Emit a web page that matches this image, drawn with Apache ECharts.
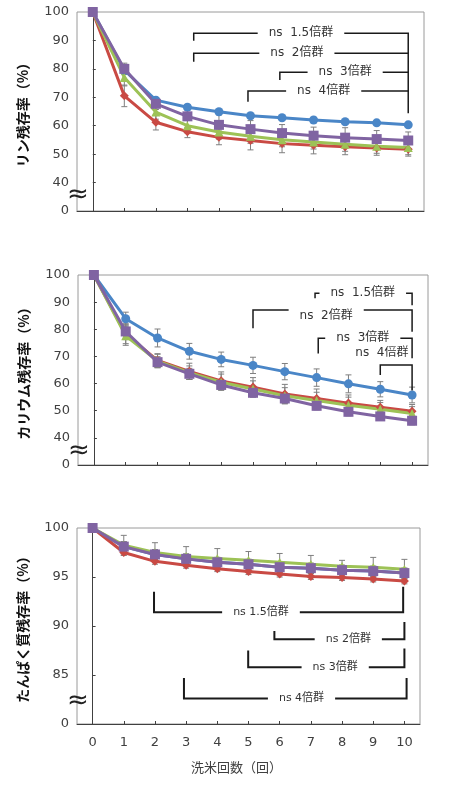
<!DOCTYPE html>
<html>
<head>
<meta charset="utf-8">
<script src="https://cdn.jsdelivr.net/npm/echarts@6/dist/echarts.min.js"></script>
<style>
html, body { margin: 0; padding: 0; background: #fff; }
#chart { width: 464px; height: 787px; }
</style>
</head>
<body>
<div id="chart"></div>
<script>
// 洗米回数
const washCounts = ['0', '1', '2', '3', '4', '5', '6', '7', '8', '9', '10'];
const groupNames = ['1.5倍群', '2倍群', '3倍群', '4倍群'];

// リン残存率
const rinValues = [
    [100, 79.5, 69, 66.5, 64.9, 63.5, 62.8, 62, 61.4, 61, 60.3],
    [100, 70.5, 61.2, 57.9, 55.9, 54.8, 53.7, 53.1, 52.6, 52.2, 51.7],
    [100, 77, 64.8, 60, 57.8, 56.3, 55.1, 54.3, 53.5, 52.8, 52.3],
    [100, 80, 67.7, 63.3, 60.3, 58.8, 57.4, 56.5, 55.8, 55.3, 54.8]
];
const rinErrors = [
    [0, 0.8, 0.8, 0.8, 0.8, 0.8, 0.8, 0.8, 0.8, 0.8, 0.8],
    [0, 3.8, 2.7, 2.1, 2.6, 3.3, 3.2, 3.0, 2.8, 2.6, 2.4],
    [0, 3, 2.5, 2.5, 2.5, 2.5, 2.5, 2.5, 2.5, 2.5, 2.5],
    [0, 2, 2, 4, 3.5, 3, 3, 3, 3.5, 3, 3]
];
// [label, from, to, level, leftEnd, rightEnd, textX, textY]
const rinBrackets = [
    ['ns  1.5倍群', 3.2, 10, 92.5, 89.9, 85.5, 6.6, 92.5],
    ['ns  2倍群', 3.2, 10, 85.5, 82.5, 78.8, 6.47, 85.5],
    ['ns  3倍群', 5.93, 10, 78.8, 76.1, 72.2, 8.0, 78.8],
    ['ns  4倍群', 4.92, 10, 72.2, 68.4, 64.4, 7.32, 72.2]
];

// カリウム残存率
const kaliValues = [
    [100, 83.9, 76.8, 71.9, 68.9, 66.7, 64.4, 62.2, 59.9, 57.9, 55.8],
    [100, 78.2, 68.5, 64.5, 61, 58.7, 56.2, 54.5, 52.8, 51.3, 49.8],
    [100, 77.6, 68.3, 64, 60.5, 58, 55.5, 53.8, 52, 50.5, 49],
    [100, 79.2, 67.9, 63.6, 59.5, 56.6, 54.5, 51.8, 49.6, 47.9, 46.3]
];
const kaliErrors = [
    [0, 2.4, 3.3, 2.9, 2.7, 3.0, 3.0, 3.2, 3.3, 2.8, 2.9],
    [0, 3.5, 2.5, 3, 3.3, 3.5, 3.5, 3.5, 3, 2.5, 2.5],
    [0, 3.5, 2.5, 2.5, 3, 3, 3, 3, 3, 2.5, 2.5],
    [0, 3, 2, 2, 1.5, 1.5, 1.5, 1.5, 1.5, 1.5, 1.5]
];
const kaliBrackets = [
    ['ns  4倍群', 9, 10, 66.8, 63.2, 57.5, 9.05, 71.4],
    ['ns  1.5倍群', 6.95, 10, 93.25, 91.4, 88.9, 8.45, 93.25],
    ['ns  2倍群', 5, 10, 87.1, 80.4, 79.1, 7.3, 84.9],
    ['ns  3倍群', 7.05, 10, 76.7, 71.1, 69.3, 8.45, 76.7]
];

// たんぱく質残存率
const protValues = [
    [100, 98.1, 97.3, 96.85, 96.5, 96.3, 96.0, 95.9, 95.7, 95.6, 95.4],
    [100, 97.5, 96.6, 96.2, 95.85, 95.55, 95.3, 95.05, 94.95, 94.8, 94.6],
    [100, 98.25, 97.5, 97.1, 96.9, 96.7, 96.5, 96.3, 96.1, 96.0, 95.8],
    [100, 98.1, 97.3, 96.85, 96.5, 96.3, 96.0, 95.9, 95.7, 95.6, 95.4]
];
const protErrors = [
    [0, 0.5, 0.5, 0.5, 0.5, 0.5, 0.5, 0.5, 0.5, 0.5, 0.5],
    [0, 0.3, 0.3, 0.3, 0.3, 0.3, 0.3, 0.3, 0.3, 0.3, 0.3],
    [0, 1.0, 1.0, 1.0, 1.0, 0.9, 0.9, 0.9, 0.6, 1.0, 1.0],
    [0, 0.5, 0.5, 0.5, 0.5, 0.5, 0.5, 0.5, 0.5, 0.5, 0.5]
];
const protBrackets = [
    ['ns 1.5倍群', 1.97, 9.96, 91.4, 93.5, 94.0, 5.4, 91.4],
    ['ns 2倍群', 5.83, 10, 88.64, 89.5, 90.4, 8.2, 88.64],
    ['ns 3倍群', 4.99, 10, 85.8, 87.5, 87.7, 7.78, 85.8],
    ['ns 4倍群', 2.93, 10.07, 82.6, 84.7, 84.7, 6.7, 82.6]
];

const colors = ['#4a86c7', '#c94a44', '#9dc256', '#8064a2'];
const symbols = ['circle', 'diamond', 'triangle', 'rect'];
const symbolSizes = [9, 9, 9, 10];

let myChart = echarts.init(document.getElementById('chart'))

const labelFont = 'DejaVu Sans'

function yAxisOf(grid, min, max, step, name) {
    return {
        type: 'value', gridIndex: grid, min: min, max: max, interval: step,
        name: name, nameLocation: 'middle', nameGap: 47,
        nameTextStyle: { fontSize: 14, fontWeight: 'bold', color: '#111', fontFamily: 'Noto Sans CJK JP' },
        axisLine: { show: true, lineStyle: { color: '#404040', width: 1 } },
        axisTick: { show: true, inside: true, length: 3, lineStyle: { color: '#404040' } },
        axisLabel: {
            margin: 8, fontSize: 13, color: '#404040', fontFamily: labelFont,
            formatter: v => (v === min ? '0' : String(v))
        },
        splitLine: { show: false }
    }
}

function catAxisOf(grid, showLabels) {
    let axis = {
        type: 'category', gridIndex: grid, data: washCounts, boundaryGap: true,
        axisLine: { show: true, lineStyle: { color: '#404040', width: 1 } },
        axisTick: { show: true, inside: true, alignWithLabel: true, interval: 0, length: 3, lineStyle: { color: '#404040' } },
        axisLabel: { show: showLabels, interval: 0, margin: 12, fontSize: 13, color: '#404040', fontFamily: labelFont },
        splitLine: { show: false }
    }
    if (showLabels) {
        axis.name = '洗米回数（回）'
        axis.nameLocation = 'middle'
        axis.nameGap = 37
        axis.nameTextStyle = { fontSize: 13, color: '#404040', fontFamily: 'Noto Sans CJK JP', padding: [0, 24, 0, 0] }
    }
    return axis
}

function valAxisOf(grid) {
    return { type: 'value', gridIndex: grid, min: -0.5, max: 10.5, show: false }
}

function lineSeriesOf(values, xi, yi) {
    return values.map((vals, k) => ({
        type: 'line', name: groupNames[k], xAxisIndex: xi, yAxisIndex: yi,
        data: vals, symbol: symbols[k], symbolSize: symbolSizes[k],
        lineStyle: { color: colors[k], width: 3 },
        itemStyle: { color: colors[k] },
        z: 3, animation: false
    }))
}

function errorSeriesOf(values, errors, xi, yi) {
    let data = []
    values.forEach((vals, k) => {
        vals.forEach((v, i) => data.push([i, v, errors[k][i]]))
    })
    return {
        type: 'custom', xAxisIndex: xi, yAxisIndex: yi, data: data, z: 2,
        silent: true, animation: false, clip: false,
        renderItem(params, api) {
            let x = api.value(0), y = api.value(1), e = api.value(2)
            if (!e) return
            let top = api.coord([x, y + e])
            let bot = api.coord([x, y - e])
            let w = 3
            let st = { stroke: '#7f7f7f', lineWidth: 1 }
            return {
                type: 'group', children: [
                    { type: 'line', shape: { x1: top[0], y1: top[1], x2: bot[0], y2: bot[1] }, style: st },
                    { type: 'line', shape: { x1: top[0] - w, y1: top[1], x2: top[0] + w, y2: top[1] }, style: st },
                    { type: 'line', shape: { x1: bot[0] - w, y1: bot[1], x2: bot[0] + w, y2: bot[1] }, style: st }
                ]
            }
        }
    }
}

function bracketSeriesOf(list, xi, yi, fontSize, lineWidth) {
    return {
        type: 'custom', xAxisIndex: xi, yAxisIndex: yi, z: 6, clip: false,
        silent: true, animation: false,
        data: list.map(b => [b[1], b[3]]),
        renderItem(params, api) {
            let b = list[params.dataIndex]
            let pLe = api.coord([b[1], b[4]])
            let pL = api.coord([b[1], b[3]])
            let pR = api.coord([b[2], b[3]])
            let pRe = api.coord([b[2], b[5]])
            let pt = api.coord([b[6], b[7]])
            return {
                type: 'group', children: [
                    {
                        type: 'polyline', shape: { points: [pLe, pL, pR, pRe] },
                        style: { stroke: '#1a1a1a', lineWidth: lineWidth, fill: null }
                    },
                    {
                        type: 'text',
                        style: {
                            text: b[0], x: pt[0], y: pt[1], align: 'center', verticalAlign: 'middle',
                            fill: '#333', font: fontSize + 'px "DejaVu Sans", "Noto Sans CJK JP"',
                            backgroundColor: '#fff', padding: [2, 11]
                        }
                    }
                ]
            }
        }
    }
}

function breakSeriesOf(xi, yi, yValue) {
    return {
        type: 'custom', xAxisIndex: xi, yAxisIndex: yi, z: 7, clip: false,
        silent: true, animation: false, data: [[-0.5, yValue]],
        renderItem(params, api) {
            let p = api.coord([api.value(0), api.value(1)])
            return {
                type: 'text',
                style: {
                    text: '≈', x: p[0] + 1, y: p[1], align: 'center', verticalAlign: 'middle',
                    fill: '#222', font: '26px "DejaVu Sans"'
                }
            }
        }
    }
}

const gridStyle = { show: true, borderColor: '#9a9a9a', borderWidth: 1, backgroundColor: 'transparent', outerBoundsMode: 'none' }

let option = {
    backgroundColor: '#fff',
    animation: false,
    tooltip: { show: false },
    grid: [
        Object.assign({ left: 77, right: 40, top: 12, height: 199 }, gridStyle),
        Object.assign({ left: 78, right: 36, top: 275, height: 190 }, gridStyle),
        Object.assign({ left: 77, right: 44, top: 528, height: 196 }, gridStyle)
    ],
    xAxis: [
        catAxisOf(0, false), valAxisOf(0),
        catAxisOf(1, false), valAxisOf(1),
        catAxisOf(2, true), valAxisOf(2)
    ],
    yAxis: [
        yAxisOf(0, 30, 100, 10, 'リン残存率（%）'),
        yAxisOf(1, 30, 100, 10, 'カリウム残存率（%）'),
        yAxisOf(2, 80, 100, 5, 'たんぱく質残存率（%）')
    ],
    series: [].concat(
        errorSeriesOf(rinValues, rinErrors, 1, 0),
        lineSeriesOf(rinValues, 0, 0),
        bracketSeriesOf(rinBrackets, 1, 0, 12, 1.5),
        breakSeriesOf(1, 0, 35.5),

        errorSeriesOf(kaliValues, kaliErrors, 3, 1),
        lineSeriesOf(kaliValues, 2, 1),
        bracketSeriesOf(kaliBrackets, 3, 1, 12, 1.5),
        breakSeriesOf(3, 1, 35.2),

        errorSeriesOf(protValues, protErrors, 5, 2),
        lineSeriesOf(protValues, 4, 2),
        bracketSeriesOf(protBrackets, 5, 2, 11, 2),
        breakSeriesOf(5, 2, 82.3)
    )
}

myChart.setOption(option)
</script>
</body>
</html>
